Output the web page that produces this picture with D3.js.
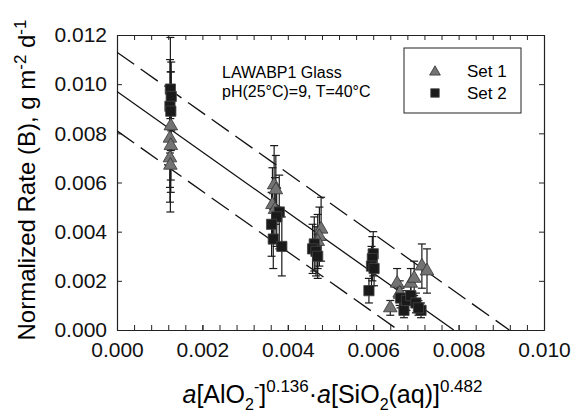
<!DOCTYPE html>
<html>
<head>
<meta charset="utf-8">
<script src="https://cdn.jsdelivr.net/npm/d3@7"></script>
<style>
  body { margin: 0; background: #fff; }
  text { font-family: "Liberation Sans", Arial, Helvetica, sans-serif; }
</style>
</head>
<body>
<div id="svg"></div>
<script>
//data: [x, rate, error]
const set1 = [
  [0.00126, 0.0083, 0.0022], [0.00124, 0.0078, 0.0020], [0.00126, 0.0075, 0.0019],
  [0.00124, 0.0070, 0.0018], [0.00125, 0.0067, 0.0019],
  [0.00368, 0.0059, 0.0016], [0.00372, 0.0057, 0.0014], [0.00364, 0.0051, 0.0015],
  [0.00370, 0.0049, 0.0013],
  [0.00478, 0.0041, 0.0013], [0.00474, 0.0038, 0.0012], [0.00470, 0.0036, 0.0011],
  [0.00640, 0.0009, 0.0003], [0.00656, 0.0019, 0.0006], [0.00662, 0.0015, 0.0005],
  [0.00688, 0.0019, 0.0006], [0.00696, 0.0021, 0.0007], [0.00714, 0.0026, 0.0009],
  [0.00726, 0.0024, 0.0009]
];
const set2 = [
  [0.00125, 0.0098, 0.0021], [0.00127, 0.0095, 0.0014], [0.00124, 0.0091, 0.0019],
  [0.00126, 0.0089, 0.0016],
  [0.00380, 0.0048, 0.0015], [0.00374, 0.0046, 0.0012], [0.00362, 0.0043, 0.0013],
  [0.00366, 0.0037, 0.0012], [0.00386, 0.0034, 0.0012],
  [0.00462, 0.0035, 0.0011], [0.00458, 0.0033, 0.0010], [0.00466, 0.0032, 0.0010],
  [0.00470, 0.0030, 0.0009],
  [0.00600, 0.0031, 0.0009], [0.00598, 0.0029, 0.0009], [0.00596, 0.0026, 0.0008],
  [0.00602, 0.0025, 0.0007], [0.00590, 0.0016, 0.0005],
  [0.00664, 0.0013, 0.0004], [0.00672, 0.0008, 0.0003], [0.00678, 0.0012, 0.0004],
  [0.00688, 0.0014, 0.0004], [0.00700, 0.0011, 0.0004], [0.00712, 0.0008, 0.0003],
  [0.00706, 0.0009, 0.0003]
];
//fitted line and bounds: rate = intercept + slope * x
const slope = -1.23;
const intercepts = [0.0113, 0.0097, 0.0081];
const lineDash = ['21,8', null, '21,8'];
const xTicks = [0, 0.002, 0.004, 0.006, 0.008, 0.010];
const yTicks = [0, 0.002, 0.004, 0.006, 0.008, 0.010, 0.012];
const legendLabels = ['Set 1', 'Set 2'];

//set variables
const w = 572, h = 412;
const pL = 117, pR = 544, pT = 35, pB = 330;

const xScale = d3.scaleLinear().domain([0, 0.010]).range([pL, pR]);
const yScale = d3.scaleLinear().domain([0, 0.012]).range([pB, pT]);
const fmt = d3.format('.3f');
const xMinor = d3.range(0, 0.01001, 0.0004);

const svg = d3.select('#svg').append('svg')
  .attr('width', w).attr('height', h);

//axes, ticks pointing inside
const axisStyle = g => {
  g.select('.domain').attr('stroke', '#222').attr('stroke-width', 1.2);
  g.selectAll('.tick line').attr('stroke', '#222');
  g.selectAll('.tick text').style('font-size', '21px').attr('fill', '#111');
};
svg.append('g').attr('transform', `translate(0,${pB})`)
  .call(d3.axisBottom(xScale).tickValues(xTicks).tickFormat(fmt).tickSizeInner(-5).tickSizeOuter(0).tickPadding(12))
  .call(axisStyle);
svg.append('g').attr('transform', `translate(0,${pB})`)
  .call(d3.axisBottom(xScale).tickValues(xMinor).tickFormat('').tickSizeInner(-5).tickSizeOuter(0))
  .call(axisStyle);
svg.append('g').attr('transform', `translate(0,${pT})`)
  .call(d3.axisTop(xScale).tickValues(xMinor).tickFormat('').tickSizeInner(-5).tickSizeOuter(0))
  .call(axisStyle);
svg.append('g').attr('transform', `translate(${pL},0)`)
  .call(d3.axisLeft(yScale).tickValues(yTicks).tickFormat(fmt).tickSizeInner(-5).tickSizeOuter(0).tickPadding(10))
  .call(axisStyle);
svg.append('g').attr('transform', `translate(${pR},0)`)
  .call(d3.axisRight(yScale).tickValues(yTicks).tickFormat('').tickSizeInner(-5).tickSizeOuter(0))
  .call(axisStyle);

//clip for lines
svg.append('clipPath').attr('id', 'clip').append('rect')
  .attr('x', pL).attr('y', pT).attr('width', pR - pL).attr('height', pB - pT);

//fit lines
intercepts.forEach((b, i) => {
  svg.append('line')
    .attr('clip-path', 'url(#clip)')
    .attr('x1', xScale(0)).attr('y1', yScale(b))
    .attr('x2', xScale(-b / slope)).attr('y2', yScale(0))
    .attr('stroke', '#111')
    .attr('stroke-width', 1.3)
    .attr('stroke-dasharray', lineDash[i]);
});

//error bars
const allPts = set1.concat(set2);
const eb = svg.append('g').attr('stroke', '#1a1a1a').attr('stroke-width', 1.2);
allPts.forEach(d => {
  const x = xScale(d[0]);
  eb.append('line').attr('x1', x).attr('x2', x).attr('y1', yScale(d[1] - d[2])).attr('y2', yScale(d[1] + d[2]));
  [d[1] - d[2], d[1] + d[2]].forEach(v => {
    eb.append('line').attr('x1', x - 4).attr('x2', x + 4).attr('y1', yScale(v)).attr('y2', yScale(v));
  });
});

//markers
const tri = d3.symbol().type(d3.symbolTriangle).size(80);
const sq = d3.symbol().type(d3.symbolSquare).size(105);
svg.append('g').selectAll('path').data(set1).enter().append('path')
  .attr('d', tri)
  .attr('transform', d => `translate(${xScale(d[0])},${yScale(d[1])})`)
  .style('fill', '#737373').style('stroke', '#333').style('stroke-width', 0.8);
svg.append('g').selectAll('path').data(set2).enter().append('path')
  .attr('d', sq)
  .attr('transform', d => `translate(${xScale(d[0])},${yScale(d[1])})`)
  .style('fill', '#1a1a1a').style('stroke', '#444').style('stroke-width', 0.8);

//annotation
svg.append('text').attr('x', 222).attr('y', 78).style('font-size', '16px').text('LAWABP1 Glass');
svg.append('text').attr('x', 222).attr('y', 97).style('font-size', '16px').text('pH(25°C)=9, T=40°C');

//legend
svg.append('rect').attr('x', 404).attr('y', 48).attr('width', 117).attr('height', 65)
  .style('fill', 'white').style('stroke', '#222').style('stroke-width', 1);
svg.append('path').attr('d', d3.symbol().type(d3.symbolTriangle).size(50))
  .attr('transform', 'translate(435,72)').style('fill', '#737373').style('stroke', '#333').style('stroke-width', 0.8);
svg.append('path').attr('d', d3.symbol().type(d3.symbolSquare).size(72))
  .attr('transform', 'translate(435,93)').style('fill', '#1a1a1a').style('stroke', '#444').style('stroke-width', 0.8);
legendLabels.forEach((t, i) => {
  svg.append('text').attr('x', 467).attr('y', 77 + i * 22).style('font-size', '17px').text(t);
});

//y-axis label
const yl = svg.append('text')
  .attr('transform', `translate(35,180) rotate(-90)`)
  .attr('text-anchor', 'middle')
  .style('font-size', '24px');
yl.append('tspan').text('Normalized Rate (B), g m');
yl.append('tspan').attr('dy', -9).style('font-size', '17px').text('-2');
yl.append('tspan').attr('dy', 9).text(' d');
yl.append('tspan').attr('dy', -9).style('font-size', '17px').text('-1');

//x-axis label
const xl = svg.append('text')
  .attr('x', (pL + pR) / 2 + 2).attr('y', 403)
  .attr('text-anchor', 'middle')
  .style('font-size', '25px');
xl.append('tspan').style('font-style', 'italic').text('a');
xl.append('tspan').text('[AlO');
xl.append('tspan').attr('dy', 7).style('font-size', '16px').text('2');
xl.append('tspan').attr('dy', -18).style('font-size', '16px').text('-');
xl.append('tspan').attr('dy', 11).text(']');
xl.append('tspan').attr('dy', -11).style('font-size', '17px').text('0.136');
xl.append('tspan').attr('dy', 11).text('·');
xl.append('tspan').style('font-style', 'italic').text('a');
xl.append('tspan').text('[SiO');
xl.append('tspan').attr('dy', 7).style('font-size', '16px').text('2');
xl.append('tspan').attr('dy', -7).text('(aq)]');
xl.append('tspan').attr('dy', -11).style('font-size', '17px').text('0.482');
</script>
</body>
</html>
